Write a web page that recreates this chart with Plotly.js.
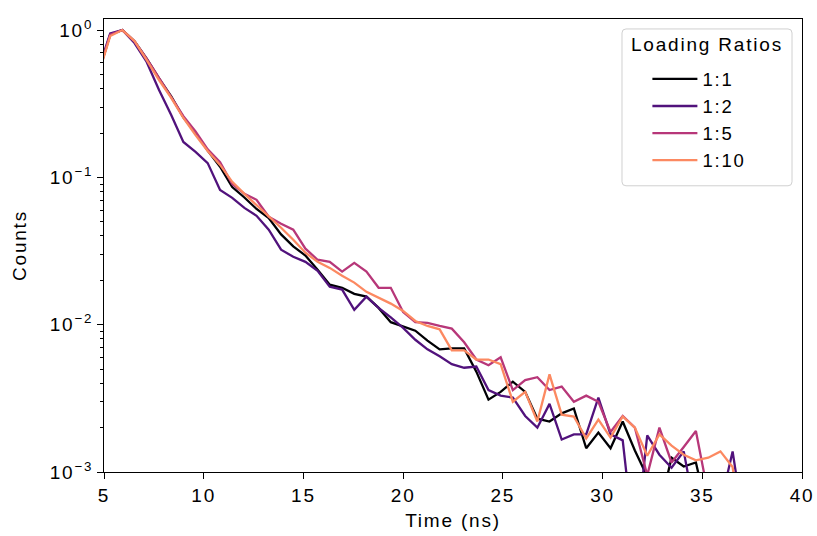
<!DOCTYPE html>
<html>
<head>
<meta charset="utf-8">
<script src="https://cdn.plot.ly/plotly-3.0.1.min.js"></script>
<style>
html,body{margin:0;padding:0;background:#fff;}
#chart{width:817px;height:536px;}
svg text{letter-spacing:1.8px;}
</style>
</head>
<body>
<div id="chart"></div>
<script>
// Time bins (ns)
const time = [4.70,5.31,5.92,6.53,7.14,7.76,8.37,8.98,9.59,10.20,10.82,11.43,12.04,12.65,13.26,13.88,14.49,15.10,15.71,16.32,16.94,17.55,18.16,18.77,19.38,20.00,20.61,21.22,21.83,22.44,23.06,23.67,24.28,24.89,25.50,26.12,26.73,27.34,27.95,28.56,29.18,29.79,30.40,31.01,31.62,32.24,32.85,33.46,34.07,34.68,35.30,35.91,36.52,37.13];

const ratio_1_1 = [0.496,0.93,1.0,0.84,0.64,0.47,0.355,0.255,0.2,0.152,0.118,0.086,0.073,0.061,0.053,0.041,0.034,0.0295,0.0236,0.0187,0.0178,0.0162,0.0155,0.013,0.0104,0.0097,0.0091,0.0078,0.0068,0.0069,0.0069,0.0048,0.0031,0.0035,0.0041,0.0035,0.0023,0.0022,0.0025,0.0027,0.00145,0.00185,0.00145,0.0022,0.0014,0.00093,0.00056,0.00125,0.00109,0.00116,0.0005,0.0004,0.0004,0.0003];

const ratio_1_2 = [0.527,0.95,1.0,0.816,0.607,0.392,0.265,0.174,0.149,0.125,0.082,0.0726,0.0621,0.0548,0.0441,0.0323,0.0289,0.0267,0.0232,0.0181,0.0173,0.0126,0.0155,0.013,0.0112,0.0095,0.0079,0.0068,0.0061,0.0054,0.0051,0.0052,0.0036,0.0033,0.0032,0.0024,0.002,0.0029,0.00166,0.0018,0.0018,0.0032,0.0018,0.00164,0.0003,0.00177,0.00131,0.00107,0.00138,0.0005,0.0004,0.0006,0.00138,0.0004];

const ratio_1_5 = [0.51,0.93,1.0,0.84,0.64,0.47,0.35,0.26,0.205,0.155,0.127,0.09,0.0773,0.0704,0.054,0.0484,0.0441,0.0328,0.0276,0.0267,0.0229,0.0263,0.0229,0.0178,0.0178,0.0122,0.0104,0.0103,0.0098,0.0094,0.0076,0.0058,0.0053,0.006,0.0036,0.0042,0.0044,0.0036,0.0038,0.003,0.0033,0.003,0.00187,0.0024,0.002,0.00095,0.002,0.00116,0.00148,0.0019,0.0007,0.0004,0.0004,0.0003];

const ratio_1_10 = [0.488,0.91,1.0,0.842,0.626,0.458,0.346,0.253,0.194,0.151,0.1215,0.0932,0.0773,0.0651,0.0548,0.0455,0.0377,0.0308,0.0267,0.0243,0.0215,0.0193,0.0167,0.0152,0.0139,0.0124,0.0106,0.0098,0.0093,0.0067,0.0067,0.0058,0.0058,0.0054,0.003,0.0035,0.0022,0.0046,0.00245,0.00238,0.00169,0.00227,0.00171,0.00238,0.002,0.00129,0.0018,0.00151,0.00131,0.0012,0.00125,0.00138,0.00108,0.0003];

const seriesNames = ['1:1','1:2','1:5','1:10'];
const seriesData = [ratio_1_1, ratio_1_2, ratio_1_5, ratio_1_10];
const seriesColors = ['#000004','#51127c','#b73779','#fc8961'];

const legendTitle = 'Loading Ratios';
const yTickVals = [1, 0.1, 0.01, 0.001];
const yTickText = ['10<sup>0</sup>','10<sup>\u22121</sup>','10<sup>\u22122</sup>','10<sup>\u22123</sup>'];
const xTickVals = [5,10,15,20,25,30,35,40];

const traces = seriesData.map((d,i)=>({
  x: time, y: d, type:'scatter', mode:'lines', name: seriesNames[i],
  line:{color: seriesColors[i], width:2.3}
}));

const FF = 'Liberation Sans, Arial, sans-serif';
const FS = 19;
const txt = {family:FF, size:FS, color:'#000'};

// legend frame (paper coords), rounded corners
const bx0=0.7421, bx1=0.9857, by0=0.6318, by1=0.978, rx=4/698, ry=4/453.5;
const boxPath = `M ${bx0+rx},${by1} L ${bx1-rx},${by1} Q ${bx1},${by1} ${bx1},${by1-ry} L ${bx1},${by0+ry} Q ${bx1},${by0} ${bx1-rx},${by0} L ${bx0+rx},${by0} Q ${bx0},${by0} ${bx0},${by0+ry} L ${bx0},${by1-ry} Q ${bx0},${by1} ${bx0+rx},${by1} Z`;

const layout = {
  width:817, height:536,
  margin:{l:104, r:15, t:19, b:64},
  paper_bgcolor:'#fff', plot_bgcolor:'#fff',
  font: txt,
  showlegend:true,
  legend:{
    x:0.7785, xanchor:'left', y:0.9086, yanchor:'top',
    bgcolor:'rgba(0,0,0,0)', borderwidth:0,
    font:{family:FF, size:18.5, color:'#000'}, tracegroupgap:0, itemwidth:45
  },
  shapes:[{type:'path', xref:'paper', yref:'paper', path:boxPath,
    line:{color:'#d0d0d0', width:1}, fillcolor:'rgba(255,255,255,0.85)', layer:'below'}],
  annotations:[{text:legendTitle, xref:'paper', yref:'paper', x:0.8639, y:0.9427,
    xanchor:'center', yanchor:'middle', showarrow:false, font:txt}],
  xaxis:{
    range:[5,40], tickmode:'array', tickvals:xTickVals,
    showgrid:false, zeroline:false, showline:true, mirror:true, linecolor:'#000', linewidth:1,
    ticks:'outside', ticklen:6, tickwidth:1, tickcolor:'#000',
    tickfont:txt,
    title:{text:'Time (ns)', font:txt, standoff:8}
  },
  yaxis:{
    type:'log', range:[-3, 0.075], tickmode:'array', tickvals:yTickVals, ticktext:yTickText,
    showgrid:false, zeroline:false, showline:true, mirror:true, linecolor:'#000', linewidth:1,
    ticks:'outside', ticklen:6, tickwidth:1, tickcolor:'#000',
    minor:{ticks:'outside', ticklen:3.5, tickwidth:1, tickcolor:'#000', dtick:'D1', showgrid:false},
    tickfont:txt,
    title:{text:'Counts', font:txt, standoff:18}
  }
};

Plotly.newPlot('chart', traces, layout, {displayModeBar:false, staticPlot:true});
</script>
</body>
</html>
